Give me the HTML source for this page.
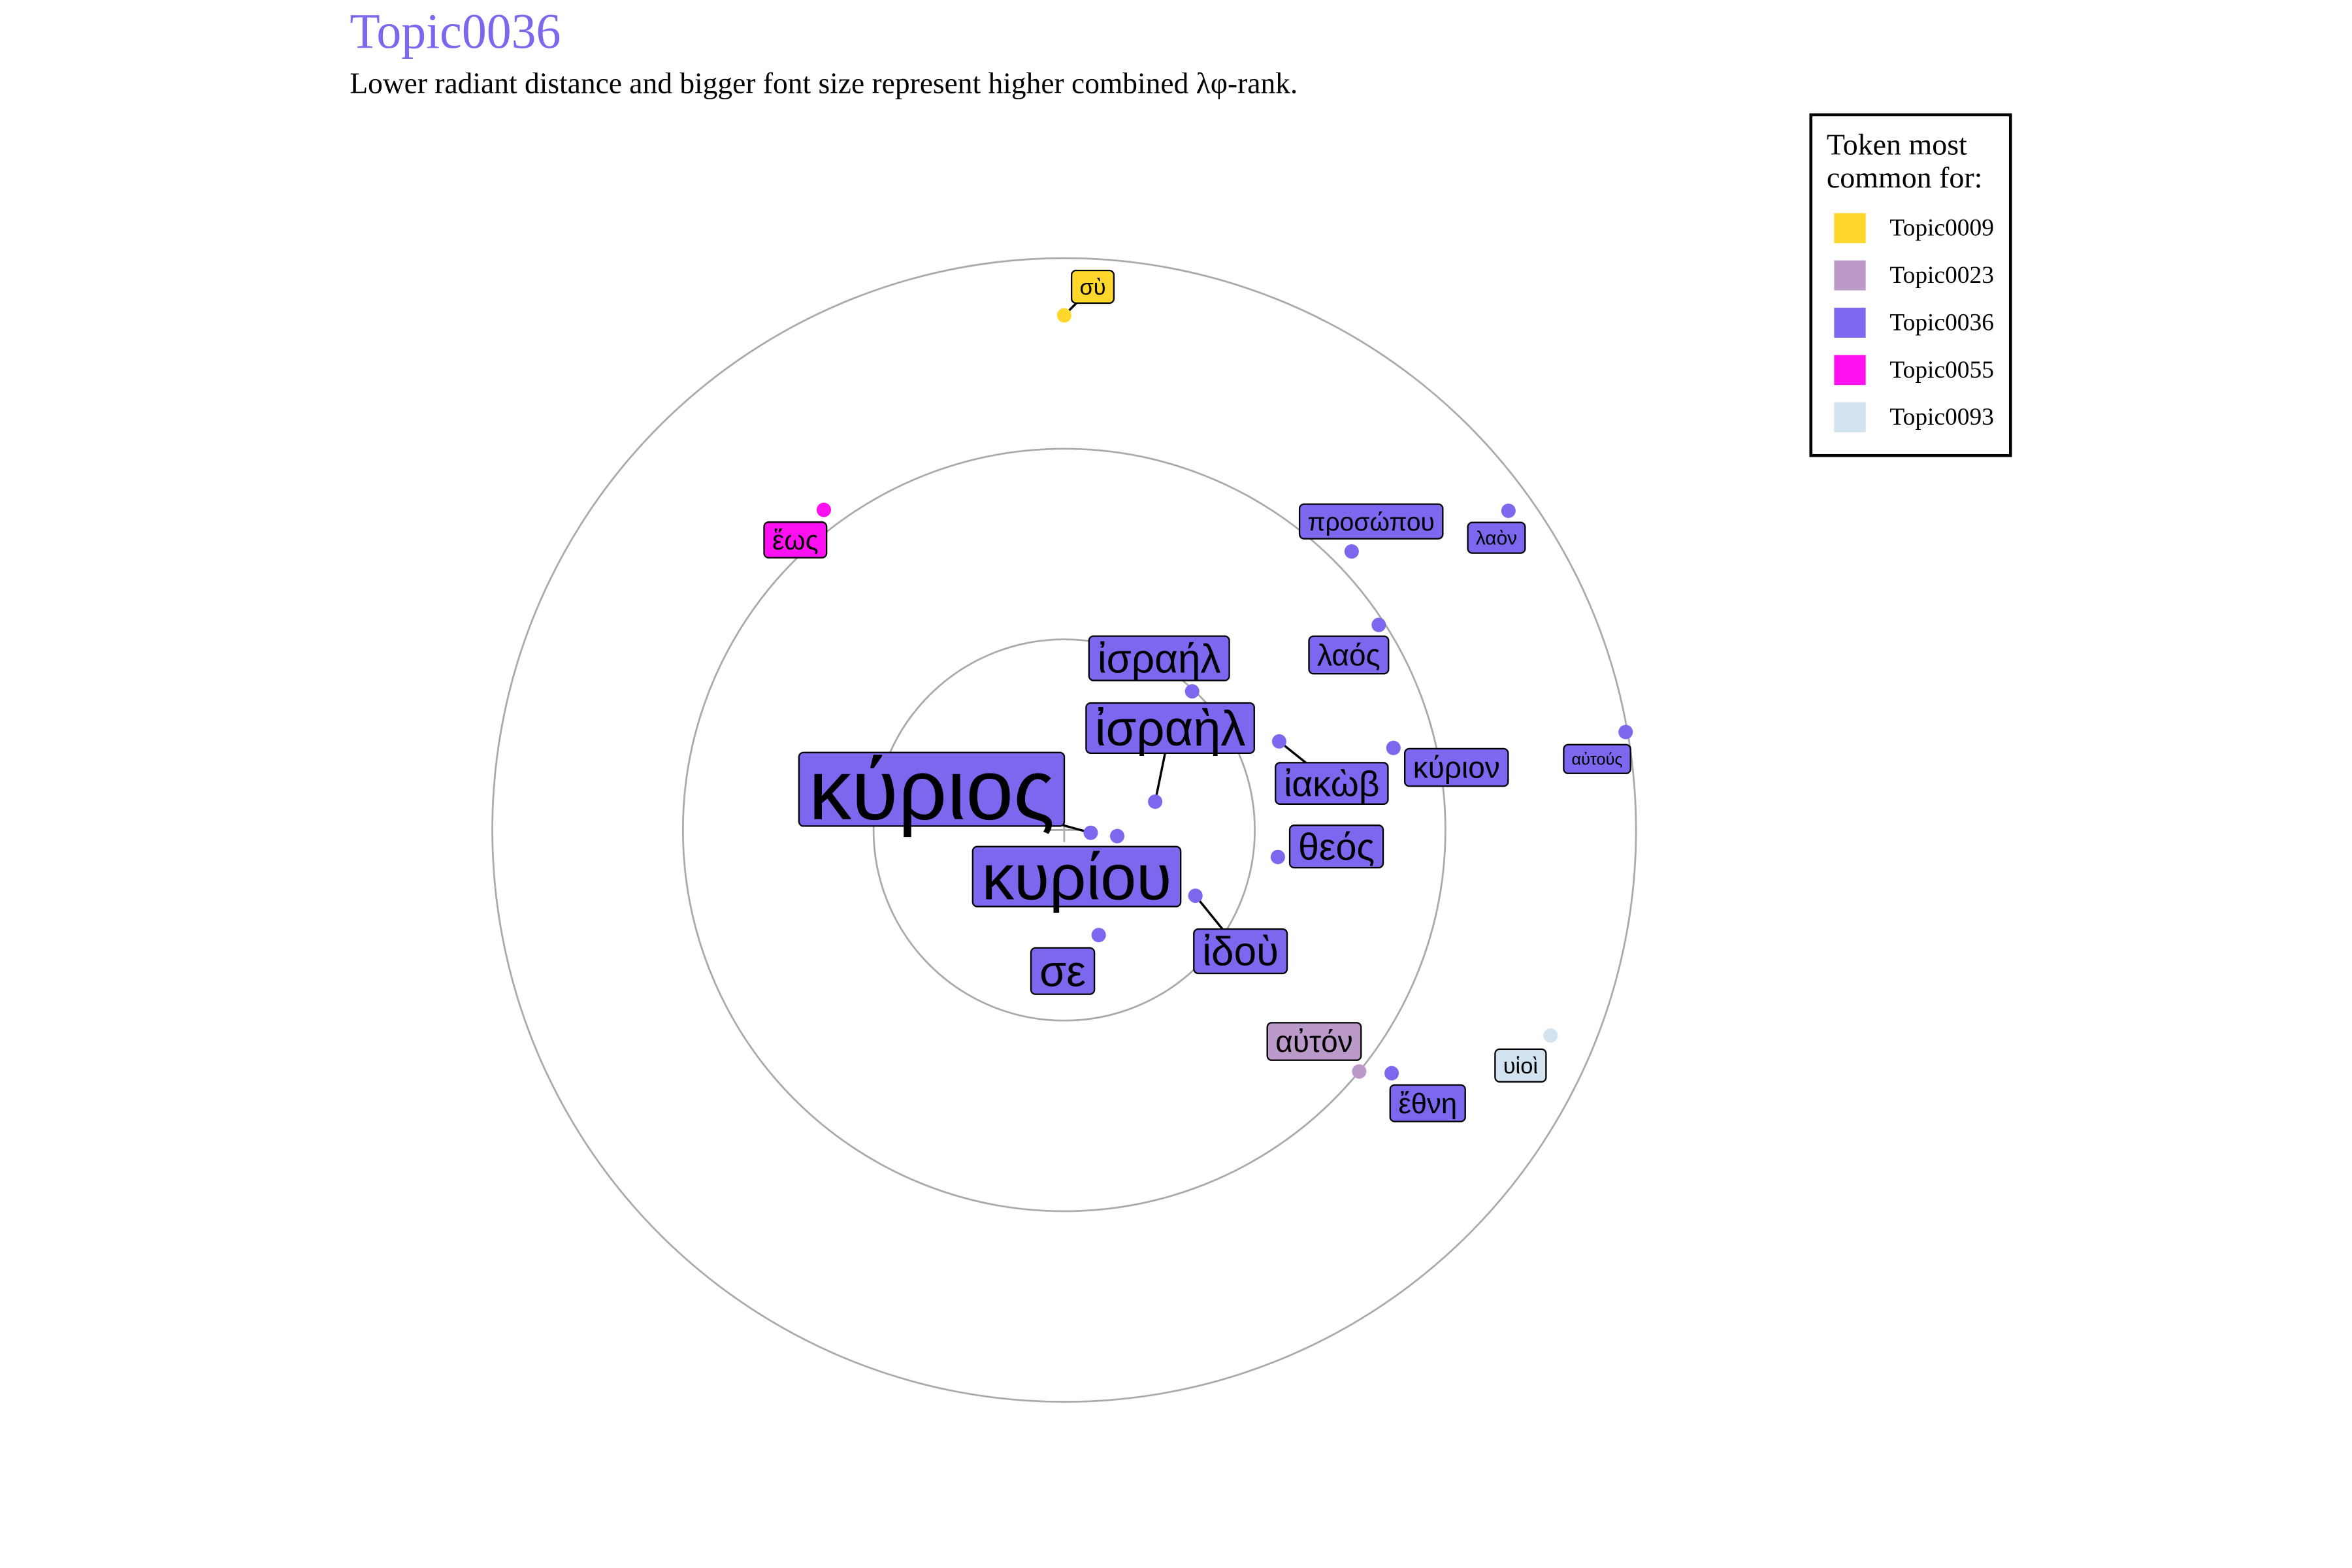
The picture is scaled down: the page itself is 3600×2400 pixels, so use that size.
<!DOCTYPE html>
<html><head><meta charset="utf-8"><style>
html,body{margin:0;padding:0;background:#fff;}
svg{display:block;}
.lbl{font-family:"Liberation Sans","DejaVu Sans",sans-serif;}
.ser{font-family:"Liberation Serif","DejaVu Serif",serif;}
</style></head><body>
<svg id="chart" xmlns="http://www.w3.org/2000/svg" width="3600" height="2400" viewBox="0 0 1567 1044.7">
<rect x="0" y="0" width="1567" height="1044.7" fill="#fff"/>
<text class="ser" x="233" y="32" font-size="33" fill="#7b68ee">Topic0036</text>
<text class="ser" x="233" y="62" font-size="19.8" fill="#000">Lower radiant distance and bigger font size represent higher combined λφ-rank.</text>
<g id="rings"></g>
<g id="links"></g>
<g id="points"></g>
<g id="labels"></g>
<g>
<rect x="1206.5" y="76.5" width="133" height="227" fill="#fff" stroke="#000" stroke-width="2"/>
<text class="ser" x="1217" y="103" font-size="20">Token most</text>
<text class="ser" x="1217" y="125" font-size="20">common for:</text>
<g id="legend-items"></g>
</g>
</svg>
<script>
const tokens = ["σὺ","ἕως","προσώπου","λαὸν","λαός","ἰσραήλ","ἰσραὴλ","ἰακὼβ","κύριον","αὐτούς","κύριος","κυρίου","θεός","ἰδοὺ","σε","αὐτόν","ἔθνη","υἱοὶ"];
const radii = [2.70,2.10,2.10,2.87,1.97,0.99,0.50,1.22,1.78,2.99,0.14,0.28,1.13,0.77,0.58,2.00,2.14,2.77];
const angles = [0,-36.9,45.9,54.3,56.9,42.7,72.7,67.6,76,80.1,96,96.5,97.2,116.6,161.8,129.3,126.6,112.9];
const topics = ["Topic0009","Topic0055","Topic0036","Topic0036","Topic0036","Topic0036","Topic0036","Topic0036","Topic0036","Topic0036","Topic0036","Topic0036","Topic0036","Topic0036","Topic0036","Topic0023","Topic0036","Topic0093"];
const fontSizes = [15,18,17,13,20,27,33,24,20,11,57,43,25,27,29,20,19,15];
const legendTopics = ["Topic0009","Topic0023","Topic0036","Topic0055","Topic0093"];
const ringValues = [1,2,3];

const colors = {"Topic0009":"#fdd72a","Topic0023":"#bb99c9","Topic0036":"#7b68ee","Topic0055":"#ff10f0","Topic0093":"#d1e3ef"};
// label layout: box center offset from point (display px) and whether a connector is drawn
const labelOffsets = [[19,-19],[-19,20],[13,-20],[-8,18],[-20,20],[-22,-22],[10,-49],[35,28],[42,13],[-19,18],[-106,-29],[-27,27],[39,-7],[30,37],[-24,24],[-30,-20],[24,20],[-20,20]];
const connectors = [1,0,0,0,0,0,1,1,0,0,1,0,0,1,0,0,0,0];

const NS="http://www.w3.org/2000/svg";
const cx=709, cy=553, unit=127;
function xScale(r,a){return cx + r*unit*Math.sin(a*Math.PI/180);}
function yScale(r,a){return cy - r*unit*Math.cos(a*Math.PI/180);}
function mk(tag,attrs,parent){const e=document.createElementNS(NS,tag);for(const k in attrs)e.setAttribute(k,attrs[k]);parent.appendChild(e);return e;}

const rings=document.getElementById('rings');
ringValues.forEach(v=>{
  const c=mk('circle',{cx:cx,cy:cy,r:v*unit,fill:'none',stroke:'#aaa','stroke-width':1.2},rings);
  
  
});
const cr1=mk('line',{x1:cx-12,y1:cy,x2:cx+12,y2:cy,stroke:'#aaa','stroke-width':1.2},rings);


const cr2=mk('line',{x1:cx,y1:cy-8,x2:cx,y2:cy+8,stroke:'#aaa','stroke-width':1.2},rings);



const pts=document.getElementById('points'), labs=document.getElementById('labels'), links=document.getElementById('links');
const meas=mk('text',{class:'lbl',x:-1000,y:-1000},labs);
tokens.forEach((t,i)=>{
  const px=xScale(radii[i],angles[i]), py=yScale(radii[i],angles[i]);
  const col=colors[topics[i]];
  const fs=fontSizes[i];
  meas.setAttribute('font-size',fs); meas.textContent=t;
  const w=meas.getComputedTextLength()+10+fs*0.05, h=fs*0.65+12;
  const lx=px+labelOffsets[i][0], ly=py+labelOffsets[i][1];
  if(connectors[i]){
    const ln=mk('line',{x1:px,y1:py,x2:lx,y2:ly,stroke:'#000','stroke-width':1.5},links);
    
    
  }
  const c=mk('circle',{cx:px,cy:py,r:4.8,fill:col},pts);
  
  
  const g=mk('g',{},labs);
  
  
  mk('rect',{x:lx-w/2,y:ly-h/2,width:w,height:h,rx:3,fill:col,stroke:'#000','stroke-width':1},g);
  const tx=mk('text',{class:'lbl',x:lx,y:ly+fs*0.35,'font-size':fs,'text-anchor':'middle',fill:'#000'},g);
  tx.textContent=t;
});
meas.remove();

const li=document.getElementById('legend-items');
legendTopics.forEach((t,i)=>{
  const y=142+i*31.5;
  const g=mk('g',{},li);
  
  
  mk('rect',{x:1222,y:y,width:21,height:20,fill:colors[t]},g);
  const tx=mk('text',{class:'ser',x:1259,y:y+15,'font-size':16.3,fill:'#000'},g);
  tx.textContent=t;
});
</script>
</body></html>
